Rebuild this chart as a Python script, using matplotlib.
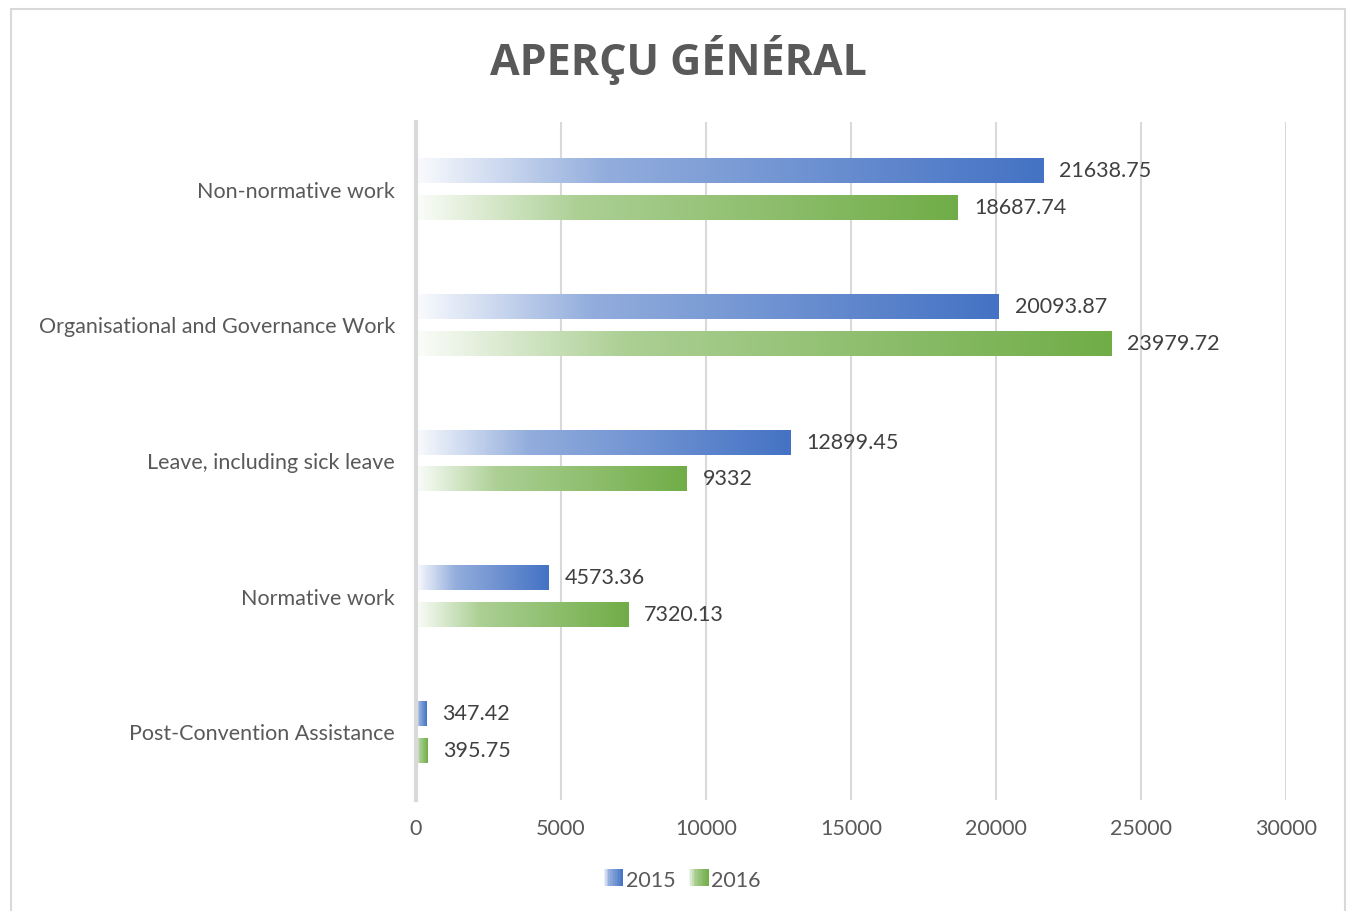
import numpy as np
import matplotlib.pyplot as plt
from matplotlib.patches import Rectangle
from matplotlib.colors import to_rgb
from matplotlib.legend_handler import HandlerBase

categories = ["Non-normative work", "Organisational and Governance Work",
              "Leave, including sick leave", "Normative work",
              "Post-Convention Assistance"]
vals_2015 = [21638.75, 20093.87, 12899.45, 4573.36, 347.42]
vals_2016 = [18687.74, 23979.72, 9332, 7320.13, 395.75]
series = ["2015", "2016"]
colors = ["#4472C4", "#70AD47"]
xticks = [0, 5000, 10000, 15000, 20000, 25000, 30000]

fig = plt.figure(figsize=(13.51, 9.11), dpi=100)
ax = fig.add_axes([416 / 1351, 1 - 800 / 911, 870 / 1351, 678 / 911])

txt = "#595959"
lab = "#404040"
font = "Lato"
fs = 15.5


def fade(t):
    return np.where(t < 0.3, 0.03 + 0.55 * t / 0.3, 0.58 + 0.42 * (t - 0.3) / 0.7)


def grad_bar(ax, x0, w, yc, h, color):
    # horizontal fade from white to the series colour
    t = np.linspace(0, 1, 256)
    mix = fade(t)
    c = np.array(to_rgb(color))
    img = (1 - mix)[:, None] * np.ones(3) + mix[:, None] * c
    ax.imshow(img[None, :, :], extent=[x0, x0 + w, yc - h / 2, yc + h / 2],
              aspect="auto", zorder=3, interpolation="bilinear")


class GradHandler(HandlerBase):
    def create_artists(self, legend, orig, xd, yd, width, height, fontsize, trans):
        c = np.array(to_rgb(orig.get_facecolor()[:3]))
        k = 12
        out = []
        for j in range(k):
            m = float(fade(np.array([(j + 0.5) / k]))[0])
            col = (1 - m) * np.ones(3) + m * c
            out.append(Rectangle((xd + width * j / k, yd), width / k + 0.3, height,
                                 facecolor=col, edgecolor="none", transform=trans))
        return out


n = len(categories)
ypos = np.arange(n)[::-1].astype(float)
off = 0.136
h = 0.177
for i in range(n):
    for s, (vals, col) in enumerate([(vals_2015, colors[0]), (vals_2016, colors[1])]):
        yc = ypos[i] + (off if s == 0 else -off)
        grad_bar(ax, 0, vals[i], yc, h, col)
        ax.text(vals[i] + 550, yc, f"{vals[i]}", va="center", ha="left",
                fontsize=fs, color=lab, family=font, zorder=4)

ax.set_xlim(0, 30000)
ax.set_ylim(-0.5, n - 0.5)
ax.set_xticks(xticks)
ax.set_xticklabels([str(x) for x in xticks], fontsize=fs, color=txt, family=font)
ax.set_yticks(ypos)
ax.set_yticklabels(categories, fontsize=fs, color=txt, family=font)
ax.tick_params(axis="y", length=0, pad=15)
ax.tick_params(axis="x", length=0, pad=14)
for x in xticks[1:]:
    ax.axvline(x, color="#d9d9d9", lw=1.5, zorder=1)
for sp in ["top", "right", "bottom"]:
    ax.spines[sp].set_visible(False)
ax.spines["left"].set_color("#d9d9d9")
ax.spines["left"].set_linewidth(3)
ax.spines["left"].set_zorder(5)

fig.text(0.502, 1 - 60 / 911, "APERÇU GÉNÉRAL", ha="center", va="center",
         fontsize=31, fontweight="bold", color=txt, family="Open Sans")

# legend
handles = [Rectangle((0, 0), 1, 1, facecolor=c) for c in colors]
fig.legend(handles, series, loc="center", bbox_to_anchor=(0.505, 1 - 881 / 911),
           ncol=2, frameon=False, prop={"family": font, "size": fs},
           labelcolor=txt, handlelength=0.9, handleheight=0.85,
           handletextpad=0.15, columnspacing=0.6,
           handler_map={Rectangle: GradHandler()})

# chart border
fig.patches.append(Rectangle((11 / 1351, -0.05), 1334 / 1351, 1.05 - 9 / 911,
                             transform=fig.transFigure, fill=False,
                             edgecolor="#d9d9d9", lw=1.5))

fig.savefig("out.png", dpi=100, facecolor="white")
